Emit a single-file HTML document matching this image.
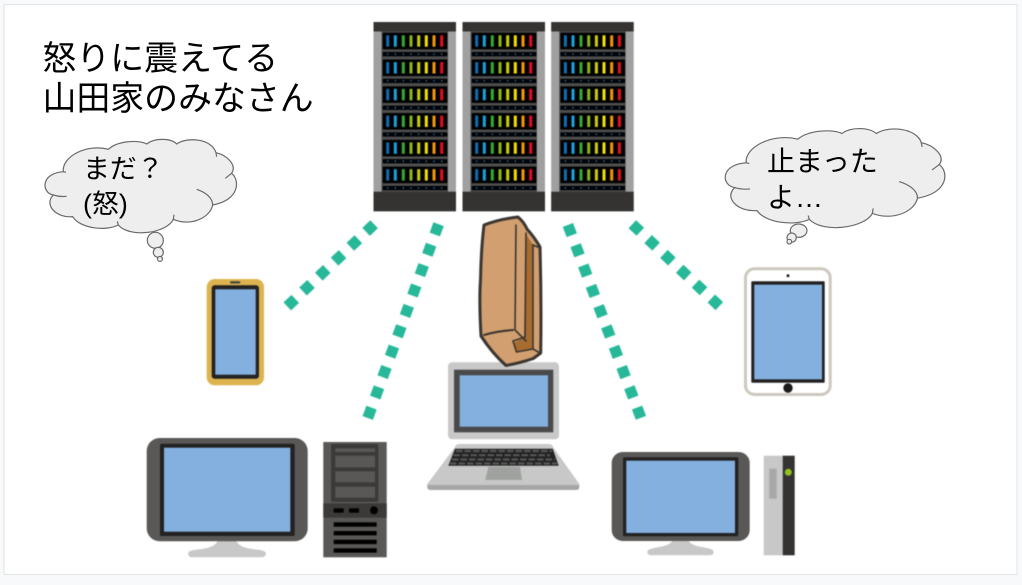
<!DOCTYPE html>
<html><head><meta charset="utf-8">
<style>
html,body{margin:0;padding:0;background:#f8f9fb;width:1022px;height:585px;overflow:hidden}
svg{display:block}
text{font-family:"Liberation Sans","Noto Sans CJK JP",sans-serif;fill:#000}
.c{fill:#eee;stroke:#6a6a6a;stroke-width:3.6}
.t{fill:none;stroke:#6a6a6a;stroke-width:3.6}
.b{filter:blur(.4px)}
</style></head><body>
<svg width="1022" height="585" viewBox="0 0 1022 585" xmlns="http://www.w3.org/2000/svg">
<defs>
<g id="leds">
<rect x="386.2" width="3" height="11.4" fill="#0f6fb5"/>
<rect x="393.8" width="3" height="11.4" fill="#18a5e0"/>
<rect x="401.8" width="3" height="11.4" fill="#35ab35"/>
<rect x="409.5" width="3" height="11.4" fill="#8db814"/>
<rect x="417.2" width="3" height="11.4" fill="#ccd000"/>
<rect x="424.8" width="3" height="11.4" fill="#f3e100"/>
<rect x="432.5" width="3" height="11.4" fill="#f39800"/>
<rect x="440.2" width="3" height="11.4" fill="#e60f20"/>
</g>
<g id="unit">
<rect x="382.7" y="32.7" width="64.6" height="16.6" fill="#000"/>
<use href="#leds" y="35.3"/>
<rect x="382.7" y="52" width="64.6" height="4.3" fill="#000"/>
<path d="M387.7 54.1h.01M395.3 54.1h.01M403.3 54.1h.01M411 54.1h.01M418.7 54.1h.01M426.3 54.1h.01M434 54.1h.01M441.7 54.1h.01" stroke="#0f6fb5" stroke-width="1.8" stroke-linecap="round"/>
</g>
<g id="rack">
<rect x="373.5" y="22" width="82.5" height="189.3" fill="#a0a0a0"/>
<rect x="381.5" y="31" width="66.5" height="161" fill="#4e4e4e"/>
<rect x="373.5" y="22" width="82.5" height="9.5" fill="#353331"/>
<rect x="373.5" y="191.7" width="82.5" height="19.6" fill="#353331"/>
<use href="#unit"/>
<use href="#unit" y="26.8"/>
<use href="#unit" y="53.6"/>
<use href="#unit" y="80.3"/>
<use href="#unit" y="107.1"/>
<use href="#unit" y="133.9"/>
</g>
<path id="cloud" d="M100,125 C95,80 170,40 235,58 C265,30 330,30 350,42 C375,22 425,25 440,42 C470,20 545,25 558,68 C590,75 622,105 605,130 C630,150 630,210 548,225 C540,265 480,290 430,268 C410,310 300,325 265,285 C225,305 150,295 128,260 C80,265 40,225 70,195 C35,190 30,130 100,125 Z"/>
<path id="ticks" d="M500,178 C530,188 548,205 548,225 M430,268 L432,254 M265,285 L262,274 M70,195 C85,200 100,200 110,199 M605,130 L586,145 M558,68 L560,80 M100,125 L108,127"/>
</defs>

<rect x="0" y="0" width="1022" height="585" fill="#f8f9fb"/>
<rect x="4" y="4.5" width="1013" height="570" fill="#fff" stroke="#e2e3e5" stroke-width="1"/>

<!-- racks -->
<g class="b">
<use href="#rack"/>
<use href="#rack" x="89"/>
<use href="#rack" x="177.7"/>
</g>

<!-- dotted links -->
<g class="b" stroke="#26b899" stroke-width="11" fill="none" stroke-dasharray="11 10.7">
<line x1="374.1" y1="224.3" x2="286" y2="307.6"/>
<line x1="438.6" y1="224.2" x2="367" y2="420"/>
<line x1="567.9" y1="224.9" x2="641" y2="418"/>
<line x1="632.3" y1="224.2" x2="720" y2="306.7"/>
</g>

<!-- clouds -->
<g transform="translate(30,130) scale(.3333)">
<use href="#cloud" class="c"/>
<use href="#ticks" class="t"/>
<circle cx="376" cy="331" r="24" class="c"/>
<circle cx="385" cy="367" r="15" class="c"/>
<circle cx="390" cy="387" r="7.5" class="c"/>
</g>
<g transform="translate(710,120) scale(.3333)">
<g transform="translate(-6,-4) scale(1.147,1.06)">
<use href="#cloud" class="c" style="stroke-width:3.2"/>
<use href="#ticks" class="t" style="stroke-width:3.2"/>
</g>
<ellipse cx="266" cy="332" rx="25" ry="20" class="c"/>
<circle cx="245" cy="353" r="14" class="c"/>
<circle cx="238" cy="365" r="7" class="c"/>
</g>

<!-- text -->
<text x="42.5" y="70" font-size="33.9">怒りに震えてる</text>
<text x="42.5" y="110" font-size="33.9">山田家のみなさん</text>
<text x="83" y="178" font-size="26.9">まだ？</text>
<text x="83" y="213" font-size="26.9">(怒)</text>
<text x="767" y="171" font-size="28">止まった</text>
<text x="767" y="207" font-size="28">よ…</text>

<g class="b">
<!-- phone -->
<rect x="206.7" y="279" width="57.3" height="106.3" rx="8" fill="#dcb34e"/>
<rect x="211.7" y="285.3" width="47.3" height="93.4" rx="3" fill="#222"/>
<rect x="215.3" y="289.3" width="40.4" height="85.4" fill="#84b0e0"/>
<rect x="230" y="281.3" width="10.3" height="2.2" rx="1" fill="#444"/>

<!-- tablet -->
<rect x="745.5" y="268.8" width="84.7" height="125.7" rx="9" fill="#fff" stroke="#cdc8be" stroke-width="3"/>
<rect x="751.3" y="281.3" width="73.4" height="101.4" rx="1" fill="#222"/>
<rect x="754.3" y="284.7" width="67.7" height="94.6" fill="#84b0e0"/>
<circle cx="788" cy="388" r="4.7" fill="#1a1a1a"/>
<circle cx="788" cy="275.7" r="1.5" fill="#222"/>

<!-- monitor 1 -->
<path d="M218 540 L236 540 Q238 547 252 549 L260 550 Q266 551 266 553.6 Q266 557.3 260 557.3 L193 557.3 Q188 557.3 188 553.6 Q188 551 194 550 L202 549 Q216 547 218 540Z" fill="#c8c8c8"/>
<rect x="146.7" y="438" width="161" height="103.3" rx="13" fill="#5a5856"/>
<rect x="160" y="443.7" width="134.7" height="92.3" rx="1.5" fill="#222"/>
<rect x="164" y="447.7" width="126.3" height="84" fill="#84b0e0"/>

<!-- tower 1 -->
<rect x="323.3" y="442" width="63.4" height="115.3" fill="#5a5856"/>
<rect x="331" y="444" width="47.3" height="57.7" rx="1.5" fill="#3c3a38"/>
<rect x="335.3" y="448.3" width="39.7" height="3.7" fill="#5a5856"/>
<rect x="335.3" y="455.7" width="39.7" height="11.6" fill="#5a5856"/>
<rect x="335.3" y="471.3" width="39.7" height="11" fill="#5a5856"/>
<rect x="335.3" y="486.7" width="39.7" height="11" fill="#5a5856"/>
<rect x="323.3" y="503.3" width="63.4" height="14.4" fill="#3c3a38"/>
<rect x="333.7" y="508.3" width="10" height="4.4" fill="#000"/>
<rect x="349" y="508.3" width="10" height="4.4" fill="#000"/>
<circle cx="374" cy="510.3" r="4" fill="#000"/>
<g fill="#000">
<rect x="333.7" y="522.3" width="43" height="4.4"/>
<rect x="333.7" y="531" width="43" height="4.4"/>
<rect x="333.7" y="539.7" width="43" height="4.4"/>
<rect x="333.7" y="548.3" width="43" height="4.4"/>
</g>

<!-- laptop -->
<rect x="448" y="362.3" width="111" height="77" rx="4" fill="#c8c8c8"/>
<rect x="454" y="369.7" width="99.3" height="62.6" fill="#4a4a4a"/>
<rect x="459.7" y="375.3" width="88.3" height="51.4" fill="#84b0e0"/>
<path d="M427.3 484 L427.3 487 Q427.3 490 431 490 L576 490 Q579.3 490 579.3 487 L579.3 484Z" fill="#a6a6a6"/>
<path d="M459 444 L549 444 Q552 444 553 447 L579.3 484 L579.3 485 L427.3 485 L427.3 484 L455 447 Q456 444 459 444Z" fill="#c8c8c8"/>
<path d="M455 448.7 L552.7 448.7 L558.7 465.7 L448.3 465.7Z" fill="#222"/>
<g stroke="#565656" stroke-width="2.2" stroke-dasharray="6.5 2" fill="none">
<line x1="456" y1="451" x2="552" y2="451"/>
<line x1="453.5" y1="455.2" x2="550" y2="455.2"/>
<line x1="452" y1="459.5" x2="555" y2="459.5"/>
<line x1="450" y1="463.5" x2="557" y2="463.5"/>
</g>
<path d="M488.3 466.7 L520 466.7 L522 480 L485.3 480Z" fill="#a0a2a0"/>

<!-- bag -->
<path d="M484 225 Q500 219 518 217 Q524 222 527 229 Q535 238 540 247 Q541.5 300 540.7 353 L533.3 358.5 Q520 363 506 365.5 Q492 353 481 336 Q479 300 480.5 280 Q481 250 484 225Z" fill="#d2a070" stroke="#3a3530" stroke-width="3" stroke-linejoin="round"/>
<path d="M526 234 L533 245 L533 349 L516.5 352 L513 343 L524 338Z" fill="#a96c30"/>
<g fill="none" stroke="#3a3530" stroke-width="1.6" stroke-linecap="round">
<path d="M516 225 L515 330 L526 341"/>
<path d="M484 335 Q498 331 513 330" stroke-width="2"/>
<path d="M526 233 L525 337 L513 341 L516.5 352 L533 349"/>
<path d="M533 245 L533 349 L540 353"/>
<path d="M533 245 L540 248"/>
</g>

<!-- monitor 2 -->
<path d="M672.7 540 L688.3 540 Q690 545 702 547 L709 548.5 Q713.7 549.5 713.7 552 Q713.7 555.3 709 555.3 L652 555.3 Q647.3 555.3 647.3 552 Q647.3 549.5 652 548.5 L659 547 Q671 545 672.7 540Z" fill="#c8c8c8"/>
<rect x="611.7" y="452" width="138" height="89" rx="11" fill="#5a5856"/>
<rect x="623" y="457.3" width="115.3" height="79" rx="1.5" fill="#222"/>
<rect x="626.3" y="460.7" width="108.7" height="72.3" fill="#84b0e0"/>

<!-- tower 2 -->
<rect x="763.7" y="455.7" width="19" height="99.6" fill="#c8c8c8"/>
<rect x="782.7" y="455.7" width="12" height="99.6" fill="#353331"/>
<rect x="769.3" y="468.7" width="7.4" height="30" fill="#a8a8a8"/>
<circle cx="788.3" cy="472.3" r="3.5" fill="#8fc31f"/>
</g>
</svg>
</body></html>
